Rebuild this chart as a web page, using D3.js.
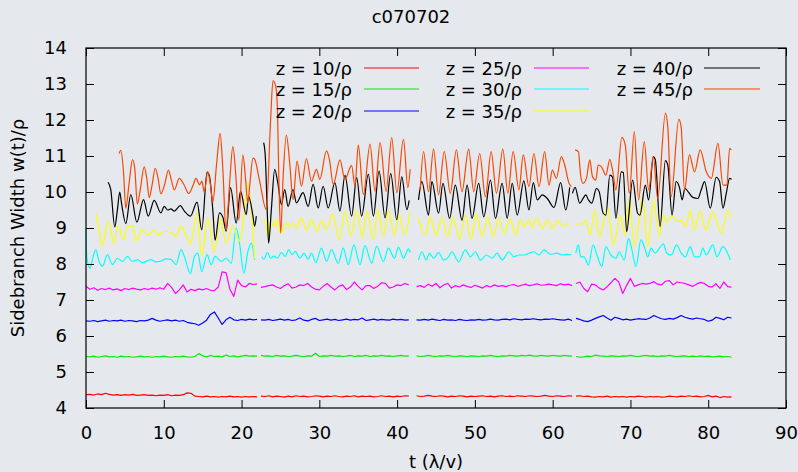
<!DOCTYPE html>
<html>
<head>
<meta charset="utf-8">
<script src="https://cdn.jsdelivr.net/npm/d3@7"></script>
<style>
  html, body { margin: 0; padding: 0; background: #e5e9ed; }
  svg { display: block; font-family: "DejaVu Sans", sans-serif; }
</style>
</head>
<body>
<svg id="chart" width="798" height="472"></svg>
<script>
// ---------------- data ----------------
const chartTitle = "c070702";
const xLabel = "t (λ/v)";
const yLabel = "Sidebranch Width w(t)/ρ";
const xTicks = [0, 10, 20, 30, 40, 50, 60, 70, 80, 90];
const yTicks = [4, 5, 6, 7, 8, 9, 10, 11, 12, 13, 14];
const seriesNames = ["z = 10/ρ", "z = 15/ρ", "z = 20/ρ", "z = 25/ρ", "z = 30/ρ", "z = 35/ρ", "z = 40/ρ", "z = 45/ρ"];
const seriesColors = ["#ff0000", "#00ee00", "#0000ff", "#ff00ff", "#00ffff", "#ffff00", "#000000", "#ff4500"];

// Evenly sampled runs: each run starts at sampleStarts[k], spacing sampleStep
const sampleStarts = [0, 22.5, 42.5, 63];
const sampleStep = 0.5;

const w10 = [
  [4.37,4.38,4.36,4.39,4.37,4.41,4.38,4.36,4.37,4.35,4.37,4.36,4.38,4.35,4.36,4.37,4.35,4.36,4.34,4.36,4.35,4.37,4.34,4.36,4.35,4.37,4.42,4.41,4.33,4.32,4.31,4.33,4.31,4.32,4.30,4.32,4.31,4.33,4.31,4.32,4.30,4.32,4.31,4.32,4.31],
  [4.33,4.32,4.34,4.31,4.33,4.32,4.30,4.33,4.31,4.34,4.32,4.33,4.31,4.32,4.34,4.33,4.31,4.33,4.32,4.34,4.32,4.31,4.33,4.32,4.34,4.31,4.33,4.32,4.33,4.31,4.32,4.34,4.32,4.33,4.31,4.33,4.32,4.34,4.33],
  [4.34,4.32,4.33,4.35,4.33,4.32,4.34,4.33,4.31,4.33,4.32,4.34,4.33,4.31,4.33,4.32,4.33,4.34,4.32,4.33,4.31,4.33,4.34,4.32,4.33,4.32,4.34,4.33,4.32,4.34,4.33,4.32,4.33,4.35,4.33,4.32,4.34,4.33,4.32,4.34,4.33],
  [4.33,4.34,4.32,4.33,4.31,4.30,4.32,4.31,4.33,4.30,4.32,4.31,4.32,4.30,4.32,4.31,4.33,4.32,4.30,4.32,4.31,4.32,4.30,4.31,4.33,4.32,4.31,4.33,4.32,4.34,4.32,4.33,4.31,4.32,4.35,4.31,4.33,4.29,4.32,4.30,4.31]
];

const w15 = [
  [5.43,5.42,5.44,5.41,5.43,5.45,5.42,5.43,5.41,5.44,5.42,5.43,5.41,5.42,5.44,5.42,5.43,5.41,5.43,5.42,5.44,5.42,5.41,5.43,5.42,5.44,5.42,5.41,5.43,5.51,5.45,5.42,5.46,5.43,5.44,5.42,5.47,5.43,5.45,5.42,5.44,5.46,5.44,5.45,5.44],
  [5.46,5.44,5.45,5.43,5.46,5.44,5.45,5.43,5.44,5.46,5.44,5.43,5.45,5.44,5.52,5.43,5.45,5.44,5.46,5.44,5.45,5.43,5.44,5.46,5.43,5.45,5.44,5.46,5.43,5.45,5.44,5.46,5.44,5.45,5.43,5.45,5.46,5.44,5.45],
  [5.45,5.43,5.44,5.46,5.44,5.43,5.45,5.44,5.46,5.44,5.43,5.45,5.44,5.43,5.45,5.44,5.43,5.45,5.44,5.46,5.44,5.43,5.45,5.44,5.46,5.45,5.44,5.46,5.45,5.47,5.45,5.44,5.46,5.45,5.44,5.46,5.45,5.44,5.46,5.45,5.44],
  [5.43,5.41,5.42,5.44,5.43,5.47,5.45,5.44,5.43,5.45,5.44,5.43,5.45,5.44,5.46,5.44,5.43,5.45,5.46,5.44,5.45,5.43,5.45,5.44,5.46,5.44,5.43,5.44,5.45,5.43,5.44,5.43,5.45,5.43,5.44,5.42,5.43,5.44,5.42,5.43,5.41]
];

const w20 = [
  [6.42,6.41,6.43,6.40,6.42,6.44,6.41,6.43,6.42,6.44,6.41,6.43,6.42,6.40,6.43,6.42,6.44,6.49,6.44,6.41,6.43,6.45,6.42,6.44,6.41,6.43,6.38,6.36,6.34,6.30,6.36,6.44,6.60,6.67,6.50,6.32,6.45,6.52,6.45,6.43,6.46,6.44,6.47,6.45,6.46],
  [6.45,6.44,6.46,6.43,6.45,6.47,6.44,6.46,6.43,6.45,6.50,6.44,6.42,6.46,6.49,6.43,6.45,6.47,6.44,6.46,6.43,6.45,6.47,6.44,6.46,6.45,6.50,6.43,6.45,6.47,6.44,6.46,6.45,6.44,6.47,6.45,6.46,6.44,6.45],
  [6.45,6.44,6.46,6.44,6.47,6.45,6.43,6.46,6.44,6.45,6.43,6.46,6.44,6.43,6.45,6.44,6.46,6.44,6.45,6.47,6.45,6.44,6.46,6.47,6.45,6.48,6.46,6.45,6.47,6.46,6.48,6.46,6.45,6.47,6.46,6.48,6.46,6.45,6.44,6.47,6.43],
  [6.49,6.46,6.42,6.40,6.44,6.49,6.53,6.57,6.50,6.44,6.52,6.49,6.45,6.47,6.44,6.46,6.48,6.47,6.46,6.50,6.57,6.52,6.48,6.46,6.49,6.47,6.51,6.57,6.52,6.49,6.47,6.50,6.48,6.46,6.41,6.44,6.52,6.49,6.45,6.52,6.50]
];

const w25 = [
  [7.38,7.30,7.34,7.27,7.32,7.29,7.33,7.28,7.31,7.26,7.32,7.29,7.33,7.30,7.28,7.32,7.29,7.33,7.30,7.34,7.30,7.46,7.35,7.18,7.28,7.42,7.22,7.30,7.26,7.31,7.28,7.32,7.27,7.26,7.36,7.78,7.76,7.30,7.10,7.55,7.40,7.36,7.46,7.43,7.45],
  [7.35,7.37,7.40,7.42,7.36,7.32,7.40,7.45,7.33,7.36,7.42,7.40,7.46,7.36,7.30,7.28,7.38,7.46,7.36,7.28,7.38,7.42,7.29,7.36,7.50,7.38,7.28,7.40,7.40,7.32,7.38,7.48,7.46,7.33,7.36,7.42,7.40,7.46,7.42],
  [7.37,7.40,7.35,7.44,7.38,7.46,7.34,7.42,7.46,7.33,7.40,7.36,7.42,7.38,7.35,7.41,7.37,7.33,7.40,7.36,7.42,7.38,7.40,7.37,7.41,7.43,7.38,7.41,7.44,7.40,7.42,7.45,7.41,7.42,7.44,7.42,7.40,7.45,7.42,7.44,7.40],
  [7.46,7.50,7.32,7.23,7.44,7.42,7.33,7.28,7.37,7.48,7.60,7.50,7.18,7.40,7.60,7.38,7.42,7.46,7.44,7.46,7.51,7.44,7.42,7.52,7.54,7.42,7.50,7.48,7.46,7.42,7.38,7.44,7.49,7.46,7.38,7.36,7.45,7.32,7.50,7.37,7.36]
];

// Traced runs: [t, w] points
const w30 = [
  [[0,9.0],[0.1,8.21],[0.52,7.88],[0.82,8.12],[1.25,8.4],[1.68,8.07],[2.11,7.93],[2.75,8.26],[3.4,7.98],[4.04,8.16],[4.69,8.07],[5.33,8.21],[5.98,8.07],[6.62,8.12],[7.27,8.04],[8.34,8.12],[9.0,8.06],[9.63,8.08],[10.3,8.14],[10.92,8.13],[11.57,7.98],[12.22,8.4],[12.65,8.21],[13.42,7.73],[13.94,8.21],[14.37,8.3],[14.88,7.79],[15.57,8.26],[16.09,7.98],[16.6,8.21],[17.38,8.07],[18.02,8.16],[18.67,8.02],[19.31,9.0],[19.74,8.58],[20.3,7.74],[20.82,8.35],[21.25,8.58],[21.68,8.12]],
  [[22.6,8.2],[22.88,8.13],[23.31,8.32],[23.74,8.16],[24.17,8.22],[24.6,8.16],[25.12,8.32],[25.63,8.21],[26.06,8.4],[26.49,8.26],[26.92,8.35],[27.48,8.16],[28.04,8.3],[28.56,8.13],[28.99,8.3],[29.55,8.04],[30.28,8.44],[30.92,8.07],[31.57,8.4],[32.43,8.02],[33.08,8.44],[33.72,7.98],[34.45,8.53],[35.23,7.98],[35.87,8.51],[36.73,8.02],[37.38,8.49],[38.24,8.07],[38.88,8.44],[39.66,8.16],[40.17,8.47],[40.82,8.16],[41.46,8.42],[41.72,8.32]],
  [[42.75,8.11],[43.18,8.34],[43.74,8.11],[44.17,8.3],[44.69,8.16],[45.33,8.32],[45.98,8.11],[46.62,8.2],[47.05,8.34],[47.91,8.06],[48.77,8.39],[49.42,8.2],[50.06,8.34],[50.71,8.11],[51.48,8.25],[52.22,8.16],[52.86,8.3],[53.51,8.11],[54.37,8.34],[55.01,8.2],[55.66,8.25],[56.3,8.25],[56.95,8.3],[57.59,8.34],[58.24,8.25],[58.88,8.39],[59.74,8.27],[60.52,8.3],[61.25,8.25],[61.89,8.27],[62.41,8.25]],
  [[62.97,8.3],[63.31,8.53],[63.61,8.2],[64.04,8.2],[64.6,7.97],[65.2,8.53],[65.76,8.2],[66.32,7.93],[66.84,8.48],[67.48,8.25],[68.13,8.16],[68.56,8.34],[69.2,8.11],[69.76,8.71],[70.19,8.39],[70.71,7.93],[71.35,8.67],[71.78,8.48],[72.22,8.2],[72.65,8.44],[73.2,8.3],[73.72,8.44],[74.24,8.56],[74.67,8.3],[75.23,8.25],[75.96,8.53],[76.52,8.3],[77.07,8.2],[77.68,8.48],[78.24,8.2],[78.88,8.2],[79.31,8.44],[79.74,8.25],[80.6,8.53],[81.12,8.2],[81.89,8.48],[82.84,8.11]]
];

const w35 = [
  [[1.29,9.42],[1.68,8.95],[2.11,8.49],[2.77,9.14],[2.97,9.16],[3.53,8.58],[4.13,9.07],[4.82,8.67],[5.33,9.05],[5.98,9.05],[6.41,8.63],[7.27,8.95],[7.91,8.79],[8.77,8.95],[9.29,8.81],[10.06,8.91],[10.92,8.88],[11.57,8.77],[12.22,9.05],[12.86,8.81],[13.42,8.56],[14.28,9.42],[14.88,8.21],[15.66,9.28],[16.52,8.35],[17.29,9.28],[18.02,8.58],[18.88,9.05],[19.74,8.63],[20.39,9.51],[20.82,10.26],[21.25,9.51],[21.68,8.16]],
  [[22.88,9.28],[23.18,9.05],[23.4,8.77],[23.74,9.23],[24.17,9.05],[24.47,9.23],[24.77,8.95],[25.12,8.86],[25.76,9.14],[26.19,9.05],[26.62,9.14],[27.05,9.0],[27.7,9.28],[28.34,8.95],[28.99,9.23],[29.63,8.91],[30.28,9.19],[30.92,8.95],[31.7,9.4],[32.56,8.67],[33.29,9.47],[34.06,8.77],[34.8,9.5],[35.53,8.72],[36.09,9.47],[36.95,8.67],[37.51,9.51],[38.24,8.77],[38.88,9.5],[39.66,8.81],[40.26,9.37],[40.95,8.81],[41.68,9.44]],
  [[42.75,9.27],[43.61,8.81],[44.26,9.31],[45.03,8.78],[45.76,9.31],[46.49,8.76],[47.18,9.31],[48.04,8.69],[48.77,9.36],[49.5,8.69],[50.19,9.39],[50.92,8.76],[51.66,9.31],[52.35,8.76],[53.08,9.27],[53.81,8.85],[54.49,9.27],[55.23,8.81],[55.87,9.22],[56.39,9.04],[56.95,9.22],[57.38,9.02],[57.94,9.27],[58.67,8.99],[59.31,9.22],[59.96,8.99],[60.6,9.2],[61.38,9.06],[62.11,9.13]],
  [[62.88,9.06],[63.4,9.13],[63.83,9.11],[64.26,9.22],[64.77,8.81],[65.46,9.5],[65.98,8.76],[66.41,9.04],[67.05,9.59],[67.78,8.53],[68.22,8.85],[68.65,9.36],[69.33,8.81],[69.85,9.82],[70.49,8.48],[71.14,9.22],[71.57,9.87],[72.22,8.48],[72.95,9.78],[73.72,8.76],[74.24,9.36],[74.67,9.18],[75.35,9.33],[75.96,9.18],[76.52,9.22],[77.07,9.04],[77.68,9.5],[78.24,8.94],[78.97,9.5],[79.66,8.94],[80.6,9.45],[81.68,8.85],[82.54,9.5],[82.97,9.27]]
];

const w40 = [
  [[2.84,10.27],[3.18,10.07],[3.7,9.03],[4.04,9.51],[4.34,10.0],[4.56,9.7],[5.12,9.12],[5.76,9.93],[6.54,9.16],[7.4,9.79],[8.0,9.33],[8.77,9.77],[9.63,9.42],[10.06,9.6],[10.5,9.5],[10.92,9.53],[11.35,9.47],[12.13,9.62],[12.65,9.47],[13.42,9.33],[14.28,9.72],[14.88,8.95],[15.57,10.55],[15.87,10.44],[16.3,9.51],[16.6,8.66],[17.16,9.42],[17.6,9.3],[18.02,8.91],[18.58,10.12],[19.31,9.14],[19.87,10.02],[20.6,9.37],[20.9,9.88],[21.46,9.34],[21.68,9.05],[21.9,9.33]],
  [[22.84,11.37],[23.05,11.0],[23.31,9.42],[23.48,8.58],[23.83,9.51],[24.26,10.63],[24.69,10.21],[25.12,9.65],[25.55,10.07],[25.98,9.6],[26.62,10.07],[27.05,9.7],[27.91,9.98],[28.56,9.6],[29.2,10.21],[29.85,9.56],[30.49,10.16],[31.14,9.56],[32.0,10.26],[32.65,9.47],[33.29,10.46],[34.15,9.33],[34.8,10.4],[35.44,9.33],[36.3,10.49],[36.95,9.33],[37.68,10.58],[38.45,9.28],[39.18,10.51],[39.96,9.23],[40.6,10.42],[41.25,9.51],[41.55,9.77]],
  [[42.75,9.78],[43.18,10.29],[44.04,9.36],[44.47,10.29],[45.33,9.41],[45.89,10.24],[46.75,9.27],[47.48,10.19],[48.34,9.22],[49.0,10.19],[49.63,9.27],[50.49,10.24],[51.14,9.31],[52.0,10.33],[52.65,9.27],[53.5,10.24],[54.15,9.27],[54.8,10.24],[55.44,9.36],[56.3,10.31],[56.95,9.5],[57.51,10.26],[58.02,9.78],[58.67,9.92],[59.31,9.82],[60.17,9.57],[61.03,10.26],[61.68,9.5],[62.19,10.13]],
  [[62.54,9.96],[62.88,10.13],[63.48,9.69],[63.91,9.82],[64.26,9.92],[64.6,9.78],[65.03,9.69],[65.63,10.1],[65.98,10.01],[66.49,9.41],[66.84,9.36],[67.35,10.47],[67.7,10.41],[68.13,9.27],[68.82,10.56],[69.08,10.54],[69.51,8.9],[70.28,10.33],[70.92,9.41],[71.22,9.36],[71.91,10.19],[72.34,9.78],[72.94,10.98],[73.2,10.89],[73.81,9.04],[74.49,10.87],[74.8,10.75],[75.35,9.36],[75.87,10.29],[76.3,10.13],[76.65,9.78],[77.0,10.1],[77.51,9.98],[78.02,9.85],[78.67,9.82],[79.1,10.06],[79.53,10.29],[80.26,9.55],[81.03,10.41],[81.46,10.29],[81.89,9.55],[82.32,9.96],[82.75,10.38],[83.0,10.35]]
];

const w45 = [
  [[4.26,11.07],[4.47,11.16],[4.8,10.63],[5.12,9.55],[5.55,10.26],[5.98,10.9],[6.28,10.63],[6.6,9.66],[7.0,10.1],[7.48,10.7],[7.8,10.4],[8.13,9.84],[8.5,10.2],[8.9,10.66],[9.25,10.4],[9.63,9.95],[10.1,10.2],[10.6,10.61],[11.0,10.3],[11.35,10.06],[12.0,10.38],[12.6,10.2],[13.2,9.96],[13.7,10.15],[14.15,10.38],[14.6,10.2],[14.9,10.3],[15.2,10.0],[15.66,10.56],[16.0,10.2],[16.3,9.72],[16.8,10.8],[17.25,11.63],[17.6,10.6],[18.0,8.94],[18.45,10.2],[18.88,11.26],[19.25,10.5],[19.65,9.22],[20.17,11.03],[20.5,10.4],[20.8,9.69],[21.1,10.3],[21.46,10.94],[21.68,10.91],[22.3,10.33],[23.18,9.51],[23.74,12.02],[24.04,13.09],[24.38,12.95],[24.6,12.4],[24.77,10.63],[25.03,8.86],[25.33,10.35],[25.76,11.58],[26.19,10.81],[26.62,9.79],[27.14,10.86],[27.7,10.16],[28.34,10.93],[28.99,10.3],[29.63,10.63],[30.06,10.35],[30.92,11.14],[31.3,10.9],[31.79,10.21],[32.65,10.89],[33.29,10.35],[34.15,10.74],[34.58,10.16],[35.01,11.3],[35.66,9.93],[36.52,11.33],[37.16,10.02],[37.81,11.37],[38.58,10.02],[39.31,11.51],[39.96,9.98],[40.82,11.47],[41.38,10.12],[41.68,10.63]],
  [[42.97,10.06],[43.4,11.12],[44.04,10.01],[44.69,11.19],[45.33,9.92],[46.06,11.12],[46.84,9.96],[47.62,11.17],[48.34,10.01],[49.2,11.19],[49.85,10.01],[50.62,11.07],[51.35,9.87],[52.09,11.12],[52.78,9.96],[53.59,11.19],[54.24,9.96],[54.92,11.12],[55.66,10.06],[56.22,11.03],[56.95,10.15],[57.59,11.07],[58.24,10.15],[58.97,11.12],[59.53,10.19],[59.96,10.61],[60.47,10.38],[61.12,10.98],[61.55,10.75],[62.11,10.24],[62.4,10.15]],
  [[62.88,11.17],[63.31,11.12],[63.61,10.43],[63.91,10.24],[64.34,10.38],[64.77,10.89],[65.12,10.43],[65.55,10.33],[65.85,10.75],[66.28,10.7],[66.84,10.47],[67.35,10.91],[67.7,10.61],[68.13,10.06],[68.9,11.52],[69.33,11.31],[69.85,9.96],[70.5,11.68],[71.05,9.78],[71.78,11.4],[72.34,10.06],[72.94,10.98],[73.5,9.82],[74.5,12.19],[74.8,11.81],[75.23,9.87],[76.22,12.02],[76.52,11.81],[76.95,10.06],[77.59,11.03],[78.24,10.56],[78.97,11.17],[79.75,10.56],[80.4,10.38],[81.25,11.35],[81.9,10.19],[82.4,10.19],[82.75,11.21],[82.97,11.17]]
];

// ---------------- drawing ----------------
const svg = d3.select("#chart");
const W = 798, H = 472;
const plot = { left: 86, right: 786, top: 48, bottom: 408 };

const x = d3.scaleLinear().domain([0, 90]).range([plot.left, plot.right]);
const y = d3.scaleLinear().domain([4, 14]).range([plot.bottom, plot.top]);

svg.append("rect").attr("width", W).attr("height", H).attr("fill", "#e5e9ed");

// turn evenly sampled runs into [t, w] points
const fromSamples = runs => runs.map((vals, k) => vals.map((v, i) => [sampleStarts[k] + i * sampleStep, v]));

const series = [
  { runs: fromSamples(w10), curve: d3.curveLinear },
  { runs: fromSamples(w15), curve: d3.curveLinear },
  { runs: fromSamples(w20), curve: d3.curveLinear },
  { runs: fromSamples(w25), curve: d3.curveLinear },
  { runs: w30, curve: d3.curveMonotoneX },
  { runs: w35, curve: d3.curveMonotoneX },
  { runs: w40, curve: d3.curveMonotoneX },
  { runs: w45, curve: d3.curveMonotoneX }
];

const lines = svg.append("g").attr("fill", "none").attr("stroke-width", 1.2).attr("stroke-linejoin", "round");
series.forEach((s, i) => {
  const gen = d3.line().x(d => x(d[0])).y(d => y(d[1])).curve(s.curve);
  s.runs.forEach(run => {
    lines.append("path").attr("d", gen(run)).attr("stroke", seriesColors[i]);
  });
});

// axes: ticks pointing inward on all four sides
const axisStyle = g => {
  g.select(".domain").remove();
  g.selectAll(".tick line").attr("stroke", "#000").attr("stroke-width", 1);
  g.selectAll(".tick text").attr("fill", "#000").attr("font-size", 18).attr("font-family", "DejaVu Sans, sans-serif");
};
svg.append("g").attr("transform", `translate(0,${plot.bottom})`)
  .call(d3.axisBottom(x).tickValues(xTicks).tickSizeInner(-8).tickSizeOuter(0).tickPadding(18).tickFormat(d3.format("d")))
  .call(axisStyle);
svg.append("g").attr("transform", `translate(0,${plot.top})`)
  .call(d3.axisTop(x).tickValues(xTicks).tickSizeInner(-8).tickSizeOuter(0).tickFormat(""))
  .call(axisStyle);
svg.append("g").attr("transform", `translate(${plot.left},0)`)
  .call(d3.axisLeft(y).tickValues(yTicks).tickSizeInner(-8).tickSizeOuter(0).tickPadding(19).tickFormat(d3.format("d")))
  .call(axisStyle);
svg.append("g").attr("transform", `translate(${plot.right},0)`)
  .call(d3.axisRight(y).tickValues(yTicks).tickSizeInner(-8).tickSizeOuter(0).tickFormat(""))
  .call(axisStyle);

// frame
svg.append("rect")
  .attr("x", plot.left).attr("y", plot.top)
  .attr("width", plot.right - plot.left).attr("height", plot.bottom - plot.top)
  .attr("fill", "none").attr("stroke", "#000").attr("stroke-width", 1.2);

// titles
svg.append("text").attr("x", 411).attr("y", 23).attr("text-anchor", "middle")
  .attr("font-size", 18).text(chartTitle);
svg.append("text").attr("x", 436).attr("y", 468).attr("text-anchor", "middle")
  .attr("font-size", 18).text(xLabel);
svg.append("text").attr("transform", "translate(24,228) rotate(-90)").attr("text-anchor", "middle")
  .attr("font-size", 18).text(yLabel);

// legend: three columns, key text right-aligned before its sample line
const legendCols = [{ tx: 352, x1: 364, x2: 419 }, { tx: 522, x1: 534, x2: 589 }, { tx: 693, x1: 704, x2: 760 }];
const legendRows = [68, 89, 111];
const legend = svg.append("g");
seriesNames.forEach((name, i) => {
  const c = legendCols[Math.floor(i / 3)], r = legendRows[i % 3];
  legend.append("text").attr("x", c.tx).attr("y", r + 6.5).attr("text-anchor", "end")
    .attr("font-size", 18).text(name);
  legend.append("line").attr("x1", c.x1).attr("x2", c.x2).attr("y1", r).attr("y2", r)
    .attr("stroke", seriesColors[i]).attr("stroke-width", 1.2);
});
</script>
</body>
</html>
